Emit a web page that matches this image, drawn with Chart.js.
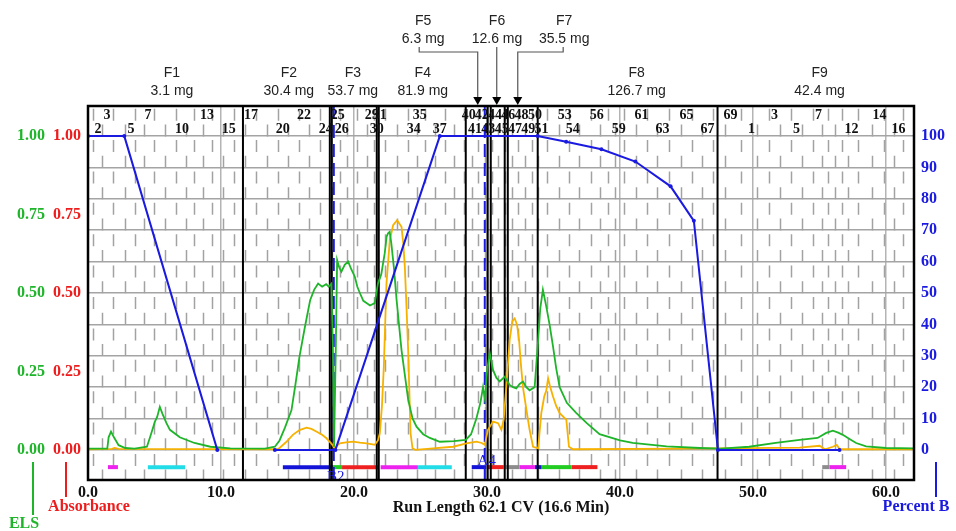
<!DOCTYPE html>
<html>
<head>
<meta charset="utf-8">
<title>Run Length 62.1 CV</title>
<script src="https://cdn.jsdelivr.net/npm/chart.js@4.4.1/dist/chart.umd.min.js"></script>
<style>
  html, body { margin: 0; padding: 0; background: #fff; }
  canvas { display: block; }
</style>
</head>
<body>
<canvas id="chart" width="956" height="531"></canvas>
<script>
const xTicks = [0, 10, 20, 30, 40, 50, 60];
const pctTicks = [0, 10, 20, 30, 40, 50, 60, 70, 80, 90, 100];
const detTicks = [0, 0.25, 0.5, 0.75, 1];

// % B (null = tramo sin linea)
const gradient = [
  [0, 100], [2.73, 100], [9.72, 0], [12, null], [14.05, 0], [18.6, 0], [26.45, 100],
  [33.8, 100], [35.95, 98.2], [38.6, 95.8], [41.15, 91.9], [43.8, 84], [45.55, 73],
  [47.36, 0], [56.5, 0]
];

// ELS (verde)
const els = [
  [0, 0.004], [1.45, 0.004], [1.55, 0.04], [1.73, 0.058], [1.95, 0.04], [2.3, 0.015], [2.8, 0.006],
  [3.5, 0.004], [4.43, 0.01], [4.7, 0.045], [5.03, 0.09], [5.2, 0.105], [5.4, 0.137], [5.6, 0.115],
  [5.9, 0.085], [6.16, 0.064], [6.9, 0.04], [8.0, 0.022], [9.2, 0.01], [10.7, 0.005], [13.3, 0.004],
  [14.05, 0.01], [14.4, 0.03], [14.8, 0.07], [15.3, 0.127], [15.6, 0.21], [15.9, 0.297], [16.3, 0.39],
  [16.7, 0.477], [17.0, 0.51], [17.3, 0.53], [17.6, 0.52], [17.9, 0.528], [18.1, 0.52], [18.3, 0.53],
  [18.42, 0.3], [18.5, 0.01], [18.62, 0.3], [18.73, 0.605], [18.9, 0.58], [19.05, 0.568], [19.3, 0.59],
  [19.56, 0.6], [19.8, 0.575], [20.06, 0.552], [20.25, 0.52], [20.44, 0.5], [20.7, 0.475], [20.94, 0.468],
  [21.2, 0.46], [21.56, 0.468], [21.8, 0.53], [22.05, 0.56], [22.31, 0.627], [22.45, 0.68], [22.56, 0.69],
  [22.68, 0.695], [22.8, 0.66], [23.0, 0.58], [23.2, 0.478], [23.57, 0.318], [24.07, 0.16], [24.4, 0.1],
  [24.7, 0.074], [25.2, 0.05], [25.7, 0.038], [26.45, 0.026], [27.5, 0.028], [28.4, 0.032], [28.8, 0.05],
  [29.2, 0.1], [29.5, 0.15], [29.7, 0.2], [29.85, 0.16], [30.0, 0.25], [30.2, 0.31], [30.45, 0.255],
  [30.7, 0.23], [30.95, 0.218], [31.33, 0.233], [31.7, 0.207], [31.95, 0.2], [32.2, 0.196], [32.45, 0.21],
  [32.7, 0.218], [32.95, 0.2], [33.2, 0.19], [33.58, 0.2], [33.84, 0.35], [34.0, 0.45], [34.2, 0.51],
  [34.46, 0.456], [34.7, 0.4], [34.96, 0.33], [35.2, 0.26], [35.46, 0.2], [36.0, 0.15], [36.7, 0.118],
  [37.5, 0.085], [38.46, 0.05], [40.0, 0.03], [40.95, 0.022], [43.5, 0.011], [46.0, 0.006], [47.6, 0.004],
  [49.7, 0.01], [51.7, 0.022], [53.5, 0.032], [54.85, 0.038], [55.5, 0.054], [56.0, 0.061], [56.4, 0.055],
  [56.75, 0.048], [57.25, 0.035], [57.75, 0.022], [58.5, 0.011], [60.0, 0.006], [62.1, 0.005]
];

// Absorbancia (naranja)
const absorbance = [
  [0, 0.002], [1.8, 0.003], [2.0, 0.006], [2.3, 0.003], [14.2, 0.002], [14.4, 0.006], [14.9, 0.025],
  [15.4, 0.048], [15.9, 0.063], [16.43, 0.071], [16.8, 0.067], [17.2, 0.058], [17.6, 0.048], [17.93, 0.037],
  [18.3, 0.02], [18.56, 0.005], [18.75, 0.015], [18.93, 0.021], [19.4, 0.024], [19.93, 0.026], [20.44, 0.023],
  [20.94, 0.021], [21.3, 0.018], [21.56, 0.016], [21.8, 0.03], [21.94, 0.053], [22.1, 0.14], [22.24, 0.265],
  [22.44, 0.53], [22.69, 0.669], [22.94, 0.716], [23.24, 0.732], [23.57, 0.711], [23.7, 0.66], [23.82, 0.584],
  [23.95, 0.45], [24.07, 0.318], [24.25, 0.053], [24.4, 0.005], [24.6, 0.0], [25.95, 0.005], [27.45, 0.01],
  [28.45, 0.021], [29.2, 0.026], [29.6, 0.022], [29.83, 0.016], [30.07, 0.064], [30.45, 0.09], [30.83, 0.085],
  [31.08, 0.064], [31.25, 0.096], [31.45, 0.2], [31.7, 0.35], [31.9, 0.41], [32.08, 0.419], [32.25, 0.4],
  [32.41, 0.35], [32.55, 0.27], [32.7, 0.2], [33.0, 0.117], [33.2, 0.064], [33.46, 0.01], [33.84, 0.005],
  [34.08, 0.117], [34.3, 0.17], [34.46, 0.19], [34.59, 0.228], [34.75, 0.2], [34.96, 0.17], [35.2, 0.14],
  [35.46, 0.117], [35.96, 0.096], [36.16, 0.01], [36.46, 0.002], [45, 0.004], [53.5, 0.007], [55.0, 0.013],
  [55.4, 0.002], [56.0, 0.01], [56.3, 0.016], [56.5, 0.002], [62.1, 0.002]
];

// cortes de fraccion (lineas negras) y cambios de gradilla (azul discontinuo)
const fractionCuts = [11.65, 18.18, 18.33, 21.71, 21.86, 28.4, 30.05, 30.28, 31.33, 31.56, 33.81, 47.33];
const rackChanges = [18.48, 29.83];
const rackLabels = ['B2', 'A4'];

// etiquetas de fracciones
const fractionNames = ['F1', 'F2', 'F3', 'F4', 'F5', 'F6', 'F7', 'F8', 'F9'];
const fractionMass = ['3.1 mg', '30.4 mg', '53.7 mg', '81.9 mg', '6.3 mg', '12.6 mg', '35.5 mg', '126.7 mg', '42.4 mg'];
const fractionLabelAt = [6.31, 15.1, 19.91, 25.17, 25.2, 30.75, 35.8, 41.25, 55.0];
const fractionArrowAt = [null, null, null, null, 29.3, 30.73, 32.31, null, null];

// barras de recoleccion bajo el cero
const barStart = [1.5, 4.5, 14.65, 18.4, 19.1, 22.0, 24.8, 28.85, 30.05, 31.2, 32.45, 33.6, 34.1, 36.35, 55.2, 55.75];
const barEnd = [2.25, 7.3, 18.4, 19.1, 21.8, 24.8, 27.35, 29.95, 31.2, 32.45, 33.6, 34.1, 36.35, 38.3, 55.75, 57.0];
const barColor = ['#ee22ee', '#22dde8', '#1414d8', '#22cc22', '#ee2020', '#ee22ee', '#22dde8', '#1414d8',
  '#ee2020', '#8c8c8c', '#ee22ee', '#1414d8', '#22cc22', '#ee2020', '#8c8c8c', '#ee22ee'];

// numeros de tubo arriba (dos filas)
const tubeUpperNums = [3, 7, 13, 17, 22, 25, 29, 31, 35, 40, 42, 44, 46, 48, 50, 53, 56, 61, 65, 69, 3, 7, 14];
const tubeUpperPos = [1.43, 4.51, 8.94, 12.25, 16.23, 18.78, 21.34, 21.94, 24.94, 28.63, 29.6, 30.6, 31.6, 32.6,
  33.6, 35.84, 38.24, 41.62, 45.0, 48.31, 51.62, 54.92, 59.5];
const tubeLowerNums = [2, 5, 10, 15, 20, 24, 26, 30, 34, 37, 41, 43, 45, 47, 49, 51, 54, 59, 63, 67, 1, 5, 12, 16];
const tubeLowerPos = [0.75, 3.23, 7.06, 10.59, 14.65, 17.88, 19.08, 21.71, 24.49, 26.45, 29.1, 30.1, 31.1, 32.1,
  33.1, 34.1, 36.44, 39.9, 43.2, 46.58, 49.89, 53.27, 57.4, 60.93];

const SERIF = "'Liberation Serif', 'Times New Roman', serif";
const SANS = "'Liberation Sans', Arial, sans-serif";
const GREEN = '#1fb52a', RED = '#ee1c1c', BLUE = '#1a1ae0', ORANGE = '#f7b200';

// limites de tubo para las lineas discontinuas (entre centros de tubo)
function tubeBounds() {
  const anchors = [];
  tubeUpperNums.forEach((n, i) => anchors.push([tubeUpperPos[i] > 49 ? 69 + n : n, tubeUpperPos[i]]));
  tubeLowerNums.forEach((n, i) => anchors.push([tubeLowerPos[i] > 49 ? 69 + n : n, tubeLowerPos[i]]));
  anchors.sort((a, b) => a[0] - b[0]);
  const centers = [];
  for (let k = 0; k < anchors.length - 1; k++) {
    const [i0, x0] = anchors[k], [i1, x1] = anchors[k + 1];
    for (let i = i0; i < i1; i++) centers.push(x0 + (x1 - x0) * (i - i0) / (i1 - i0));
  }
  centers.push(anchors[anchors.length - 1][1]);
  const b = [];
  for (let k = 0; k < centers.length - 1; k++) b.push((centers[k] + centers[k + 1]) / 2);
  b.unshift(centers[0] - (b[0] - centers[0]));
  b.push(centers[centers.length - 1] + (centers[centers.length - 1] - b[b.length - 1]));
  return b;
}
const bounds = tubeBounds();

const pts = arr => arr.map(p => ({ x: p[0], y: p[1] }));

const datasets = [
  { label: 'Percent B', data: pts(gradient), yAxisID: 'yB', borderColor: BLUE, backgroundColor: BLUE,
    borderWidth: 2, pointRadius: 2, pointBorderWidth: 0, order: 0 },
  { label: 'ELS', data: pts(els), yAxisID: 'yEls', borderColor: GREEN, borderWidth: 1.8, pointRadius: 0, order: 1 },
  { label: 'Absorbance', data: pts(absorbance), yAxisID: 'yAbs', borderColor: ORANGE, borderWidth: 1.8, pointRadius: 0, order: 2 }
];
rackChanges.forEach(c => datasets.push({
  data: [{ x: c, y: -9.6 }, { x: c, y: 109.6 }], yAxisID: 'yB', borderColor: BLUE, borderWidth: 2,
  borderDash: [13, 6], pointRadius: 0, order: 4
}));
fractionCuts.forEach(c => datasets.push({
  data: [{ x: c, y: -9.6 }, { x: c, y: 109.6 }], yAxisID: 'yB', borderColor: '#000', borderWidth: 2,
  pointRadius: 0, order: 5
}));
barStart.forEach((s, i) => datasets.push({
  data: [{ x: s, y: -5.5 }, { x: barEnd[i], y: -5.5 }], yAxisID: 'yB', borderColor: barColor[i],
  borderWidth: 4, borderCapStyle: 'butt', pointRadius: 0, order: 6
}));

const decor = {
  id: 'decor',
  beforeDatasetsDraw(chart) {
    const { ctx, chartArea: a, scales: { x, yB } } = chart;
    const period = yB.getPixelForValue(0) - yB.getPixelForValue(10);
    const y100 = yB.getPixelForValue(100);
    ctx.save();
    ctx.beginPath(); ctx.rect(a.left, a.top, a.width, a.height); ctx.clip();
    ctx.strokeStyle = '#a2a2a2'; ctx.lineWidth = 1.5;
    ctx.setLineDash([12, period - 12]);
    bounds.forEach((b, i) => {
      const px = Math.round(x.getPixelForValue(b)) + 0.5;
      const start = y100 - 2 * period + 4 + (i % 2 ? period / 2 : 0);
      ctx.beginPath(); ctx.moveTo(px, start); ctx.lineTo(px, a.bottom); ctx.stroke();
    });
    ctx.restore();
  },
  afterDatasetsDraw(chart) {
    const { ctx, chartArea: a, scales: { x } } = chart;
    ctx.save();
    // numeros de tubo
    ctx.fillStyle = '#111';
    ctx.font = 'bold 14px ' + SERIF;
    ctx.textAlign = 'center'; ctx.textBaseline = 'middle';
    tubeUpperNums.forEach((n, i) => ctx.fillText(String(n), x.getPixelForValue(tubeUpperPos[i]), 115));
    tubeLowerNums.forEach((n, i) => ctx.fillText(String(n), x.getPixelForValue(tubeLowerPos[i]), 129));
    // etiquetas de gradilla
    ctx.save();
    ctx.beginPath(); ctx.rect(a.left, a.top, a.width, a.height); ctx.clip();
    ctx.fillStyle = BLUE; ctx.font = '15px ' + SERIF;
    ctx.fillText(rackLabels[0], x.getPixelForValue(rackChanges[0]) + 2, 477);
    ctx.fillText(rackLabels[1], x.getPixelForValue(rackChanges[1]) + 2, 461);
    ctx.restore();
    // marco
    ctx.strokeStyle = '#000'; ctx.lineWidth = 2.5;
    ctx.strokeRect(a.left, a.top, a.width, a.height);
    ctx.restore();
  },
  afterDraw(chart) {
    const { ctx, chartArea: a, scales: { x } } = chart;
    ctx.save();
    ctx.font = '14px ' + SANS; ctx.fillStyle = '#222';
    ctx.textAlign = 'center'; ctx.textBaseline = 'middle';
    fractionNames.forEach((name, i) => {
      const px = x.getPixelForValue(fractionLabelAt[i]);
      const high = fractionArrowAt[i] !== null;
      ctx.fillText(name, px, high ? 21 : 73);
      ctx.fillText(fractionMass[i], px, high ? 39 : 91);
      if (high) {
        const tx = x.getPixelForValue(fractionArrowAt[i]);
        const sx = i === 4 ? px - 4 : (i === 6 ? px - 1 : tx);
        ctx.strokeStyle = '#555'; ctx.lineWidth = 1.2;
        ctx.beginPath();
        ctx.moveTo(sx, 47); ctx.lineTo(sx, 52); ctx.lineTo(tx, 52); ctx.lineTo(tx, a.top - 8);
        ctx.stroke();
        ctx.fillStyle = '#000';
        ctx.beginPath();
        ctx.moveTo(tx - 4.5, a.top - 9); ctx.lineTo(tx + 4.5, a.top - 9); ctx.lineTo(tx, a.top - 1);
        ctx.closePath(); ctx.fill();
        ctx.fillStyle = '#222';
      }
    });
    // titulos de ejes
    ctx.font = 'bold 16px ' + SERIF;
    ctx.fillStyle = GREEN; ctx.fillText('ELS', 24, 524);
    ctx.fillStyle = RED; ctx.fillText('Absorbance', 89, 507);
    ctx.fillStyle = BLUE; ctx.fillText('Percent B', 916, 507);
    ctx.lineWidth = 2;
    [[GREEN, 33, 515], [RED, 66, 497], [BLUE, 936, 497]].forEach(([c, lx, ly]) => {
      ctx.strokeStyle = c;
      ctx.beginPath(); ctx.moveTo(lx, 462); ctx.lineTo(lx, ly); ctx.stroke();
    });
    ctx.restore();
  }
};

const tickFont = { family: SERIF, size: 16, weight: 'bold' };

new Chart(document.getElementById('chart'), {
  type: 'line',
  data: { datasets },
  options: {
    responsive: false,
    animation: false,
    events: [],
    layout: { padding: { top: 106, left: 0, right: 0, bottom: 0 } },
    plugins: { legend: { display: false }, tooltip: { enabled: false } },
    elements: { line: { tension: 0 } },
    scales: {
      x: {
        type: 'linear', min: 0, max: 62.1,
        afterBuildTicks: s => { s.ticks = xTicks.map(v => ({ value: v })); },
        ticks: { callback: v => v.toFixed(1), color: '#111', font: tickFont, padding: 3, maxRotation: 0, autoSkip: false },
        grid: { color: '#b4b4b4', lineWidth: 1.5, drawTicks: false },
        border: { display: false },
        title: { display: true, text: 'Run Length 62.1 CV (16.6 Min)', color: '#111', font: tickFont, padding: { top: 0, bottom: 14 } },
        afterFit: s => { s.height = 51; }
      },
      // el eje definido despues queda mas a la izquierda
      yAbs: {
        position: 'left', min: -0.096, max: 1.096,
        afterBuildTicks: s => { s.ticks = detTicks.map(v => ({ value: v })); },
        ticks: { callback: v => v.toFixed(2), color: RED, font: tickFont, padding: 7 },
        grid: { display: false, drawTicks: false }, border: { display: false },
        afterFit: s => { s.width = 40; }
      },
      yEls: {
        position: 'left', min: -0.096, max: 1.096,
        afterBuildTicks: s => { s.ticks = detTicks.map(v => ({ value: v })); },
        ticks: { callback: v => v.toFixed(2), color: GREEN, font: tickFont, padding: 3 },
        grid: { display: false, drawTicks: false }, border: { display: false },
        afterFit: s => { s.width = 48; }
      },
      yB: {
        position: 'right', min: -9.6, max: 109.6,
        afterBuildTicks: s => { s.ticks = pctTicks.map(v => ({ value: v })); },
        ticks: { color: BLUE, font: tickFont, padding: 7 },
        grid: { color: '#a4a4a4', lineWidth: 1.5, drawTicks: false }, border: { display: false },
        afterFit: s => { s.width = 42; }
      }
    }
  },
  plugins: [decor]
});
</script>
</body>
</html>
